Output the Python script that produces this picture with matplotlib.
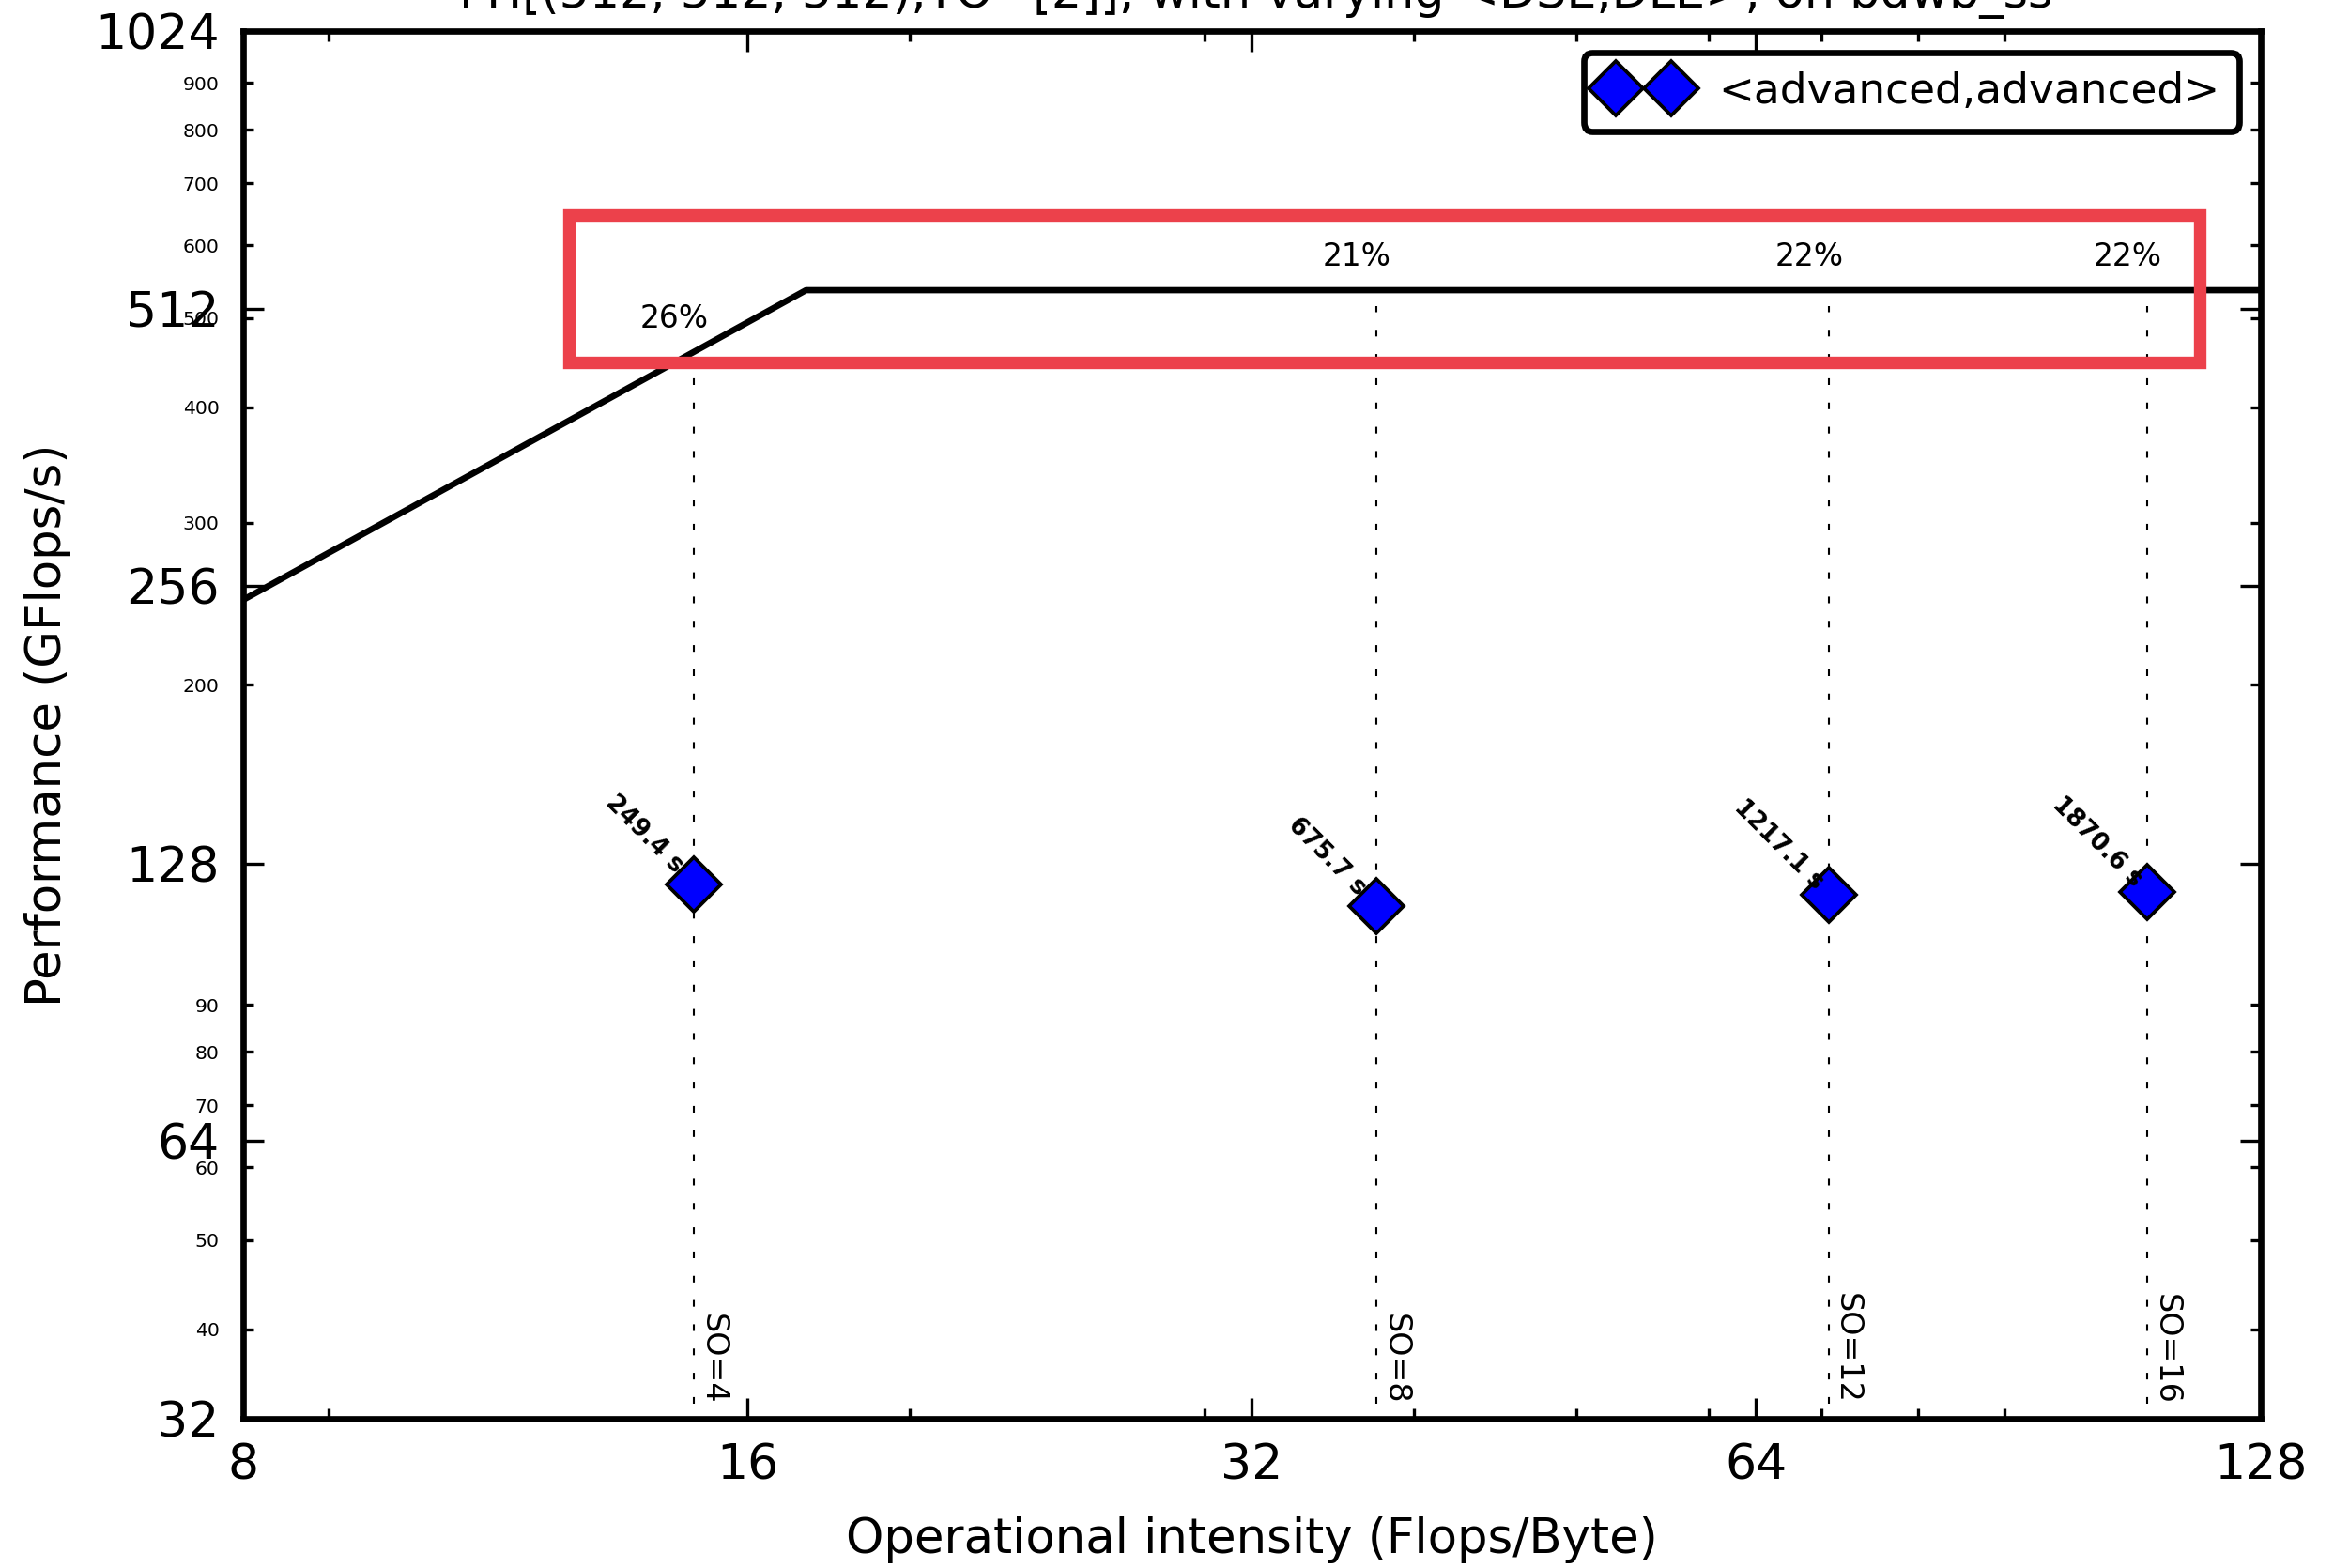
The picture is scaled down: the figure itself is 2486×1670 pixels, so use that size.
import numpy as np
import matplotlib
matplotlib.use("Agg")
import matplotlib.pyplot as plt
from matplotlib.patches import Rectangle
from matplotlib.ticker import FixedLocator, NullFormatter, FuncFormatter

# roofline of the machine
peak_gflops = 536.0
bandwidth = 30.9  # GB/s

# measured runs
space_order = [4, 8, 12, 16]
oi = [14.87, 38.0, 70.7, 109.6]
gflops = [121.6, 115.0, 118.5, 119.3]
runtime = [249.4, 675.7, 1217.1, 1870.6]
legend_label = "<advanced,advanced>"

title = "TTI[(512, 512, 512),TO=[2]], with varying <DSE,DLE>, on bdwb_ss"

# highlight box (data coords)
box_x = [12.52, 117.7]
box_y = [447.0, 646.0]

plt.rcParams['font.family'] = 'DejaVu Sans'
plt.rcParams['lines.scale_dashes'] = False

fig = plt.figure(figsize=(8.29, 5.567), dpi=300)
ax = fig.add_axes([0.104, 0.0952, 0.8641, 0.8850])
ax.set_xscale('log', base=2)
ax.set_yscale('log', base=2)
ax.set_xlim(8, 128)
ax.set_ylim(32, 1024)

# roofline
knee = peak_gflops / bandwidth
rx = np.array([8, knee, 128])
ry = np.minimum(peak_gflops, bandwidth * rx)
ax.plot(rx, ry, color='black', lw=1.6, zorder=3)

for x, y, so, t in zip(oi, gflops, space_order, runtime):
    roof = min(peak_gflops, bandwidth * x)
    ax.plot([x, x], [33.2, roof * 0.96], color='black', lw=0.5,
            linestyle=(0, (1.7, 4.5)), zorder=2)
    ax.annotate("%d%%" % round(100 * y / roof), (x, roof), xytext=(-5, 8.5),
                textcoords='offset points', ha='center', va='center', fontsize=7.9)
    ax.annotate("SO=%d" % so, (x, 33.2), xytext=(0.8, 0), textcoords='offset points',
                rotation=270, ha='left', va='bottom', fontsize=8)
    ax.annotate("%.1f s" % t, (x, y), xytext=(-12.8, 12.8), textcoords='offset points',
                rotation=-45, ha='center', va='center', fontsize=6.2, fontweight='bold',
                zorder=5)

ax.plot(oi, gflops, linestyle='none', marker='D', markersize=10,
        markerfacecolor='#0000ff', markeredgecolor='black', markeredgewidth=0.9,
        label=legend_label, zorder=4)

ax.add_patch(Rectangle((box_x[0], box_y[0]), box_x[1] - box_x[0], box_y[1] - box_y[0],
                       fill=False, edgecolor='#ec414b', lw=3.2, zorder=6))

# ticks
ax.xaxis.set_major_locator(FixedLocator([8, 16, 32, 64, 128]))
ax.xaxis.set_major_formatter(FuncFormatter(lambda v, p: "%d" % v))
ax.xaxis.set_minor_locator(FixedLocator([9, 20, 30, 40, 50, 60, 70, 80, 90]))
ax.xaxis.set_minor_formatter(NullFormatter())
ax.yaxis.set_major_locator(FixedLocator([32, 64, 128, 256, 512, 1024]))
ax.yaxis.set_major_formatter(FuncFormatter(lambda v, p: "%d" % v))
yminor = [40, 50, 60, 70, 80, 90, 200, 300, 400, 500, 600, 700, 800, 900]
ax.yaxis.set_minor_locator(FixedLocator(yminor))
ax.yaxis.set_minor_formatter(FuncFormatter(lambda v, p: "%d" % v))

ax.tick_params(which='both', direction='in', top=True, right=True, width=0.8)
ax.tick_params(which='major', length=5.3, labelsize=12.5, pad=6)
ax.tick_params(which='minor', length=2.6, labelsize=4.9, pad=6)
for s in ax.spines.values():
    s.set_linewidth(1.6)

ax.set_xlabel("Operational intensity (Flops/Byte)", fontsize=12.3, labelpad=7)
ax.set_ylabel("Performance (GFlops/s)", fontsize=12.3, labelpad=6)
ax.set_title(title, fontsize=12.2)

leg = ax.legend(loc='upper right', numpoints=2, fontsize=10.9, fancybox=True,
                borderaxespad=0.5, handletextpad=0.8, borderpad=0.45,
                handlelength=1.9)
leg.get_frame().set_edgecolor('black')
leg.get_frame().set_linewidth(1.6)
leg.get_frame().set_alpha(1)

fig.savefig("out.png", dpi=300)
